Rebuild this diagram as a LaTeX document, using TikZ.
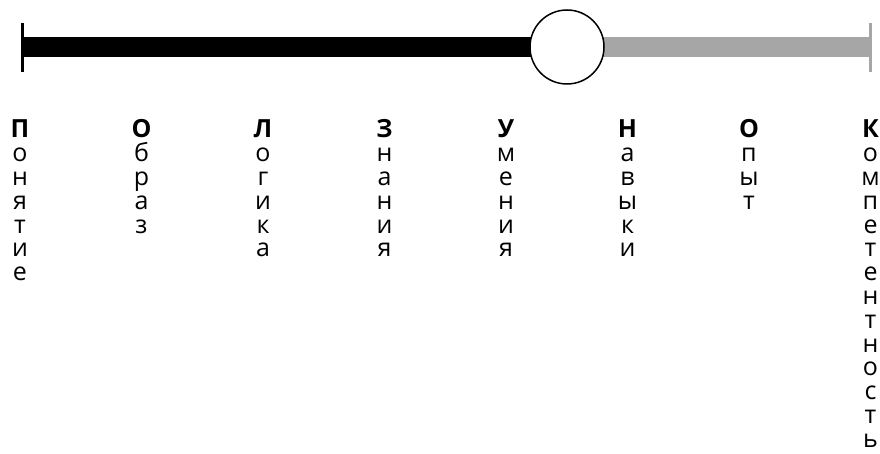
\documentclass[tikz,border=0pt]{standalone}
\usepackage{fontspec}
\setmainfont{Open Sans}
\definecolor{bargray}{HTML}{A6A6A6}
\newcommand{\vcol}[1]{\vtop{\baselineskip=23.8pt\lineskiplimit=-100pt\lineskip=0pt\halign{\hfil##\hfil\cr#1\crcr}}}
\begin{document}
\begin{tikzpicture}[x=1pt,y=-1pt,
  lbl/.style={anchor=base,inner sep=0pt,font=\fontsize{25}{23.8}\selectfont},
  tickline/.style={line width=3pt},
  barline/.style={line width=20pt},
  knob/.style={circle,draw=black,fill=white,line width=1.5pt,minimum size=74pt,inner sep=0pt}]
\useasboundingbox (0,0) rectangle (880,454);
\coordinate (lt1) at (22,23);
\coordinate (lt2) at (22,72);
\coordinate (rt1) at (870,23);
\coordinate (rt2) at (870,72);
\coordinate (lb) at (22,47);
\coordinate (rb) at (870,47);
\coordinate (mid) at (567,47);
\draw[tickline,black] (lt1) -- (lt2);
\draw[tickline,bargray] (rt1) -- (rt2);
\draw[barline,black] (lb) -- (mid);
\draw[barline,bargray] (mid) -- (rb);
\node[knob] (dot) at (mid) {};
\node[lbl] (w1) at (20,138) {\vcol{\textbf{П}\cr о\cr н\cr я\cr т\cr и\cr е}};
\node[lbl] (w2) at (141.5,138) {\vcol{\textbf{О}\cr б\cr р\cr а\cr з}};
\node[lbl] (w3) at (263,138) {\vcol{\textbf{Л}\cr о\cr г\cr и\cr к\cr а}};
\node[lbl] (w4) at (384.5,138) {\vcol{\textbf{З}\cr н\cr а\cr н\cr и\cr я}};
\node[lbl] (w5) at (506,138) {\vcol{\textbf{У}\cr м\cr е\cr н\cr и\cr я}};
\node[lbl] (w6) at (627.5,138) {\vcol{\textbf{Н}\cr а\cr в\cr ы\cr к\cr и}};
\node[lbl] (w7) at (749,138) {\vcol{\textbf{О}\cr п\cr ы\cr т}};
\node[lbl] (w8) at (870.5,138) {\vcol{\textbf{К}\cr о\cr м\cr п\cr е\cr т\cr е\cr н\cr т\cr н\cr о\cr с\cr т\cr ь}};
\end{tikzpicture}
\end{document}
